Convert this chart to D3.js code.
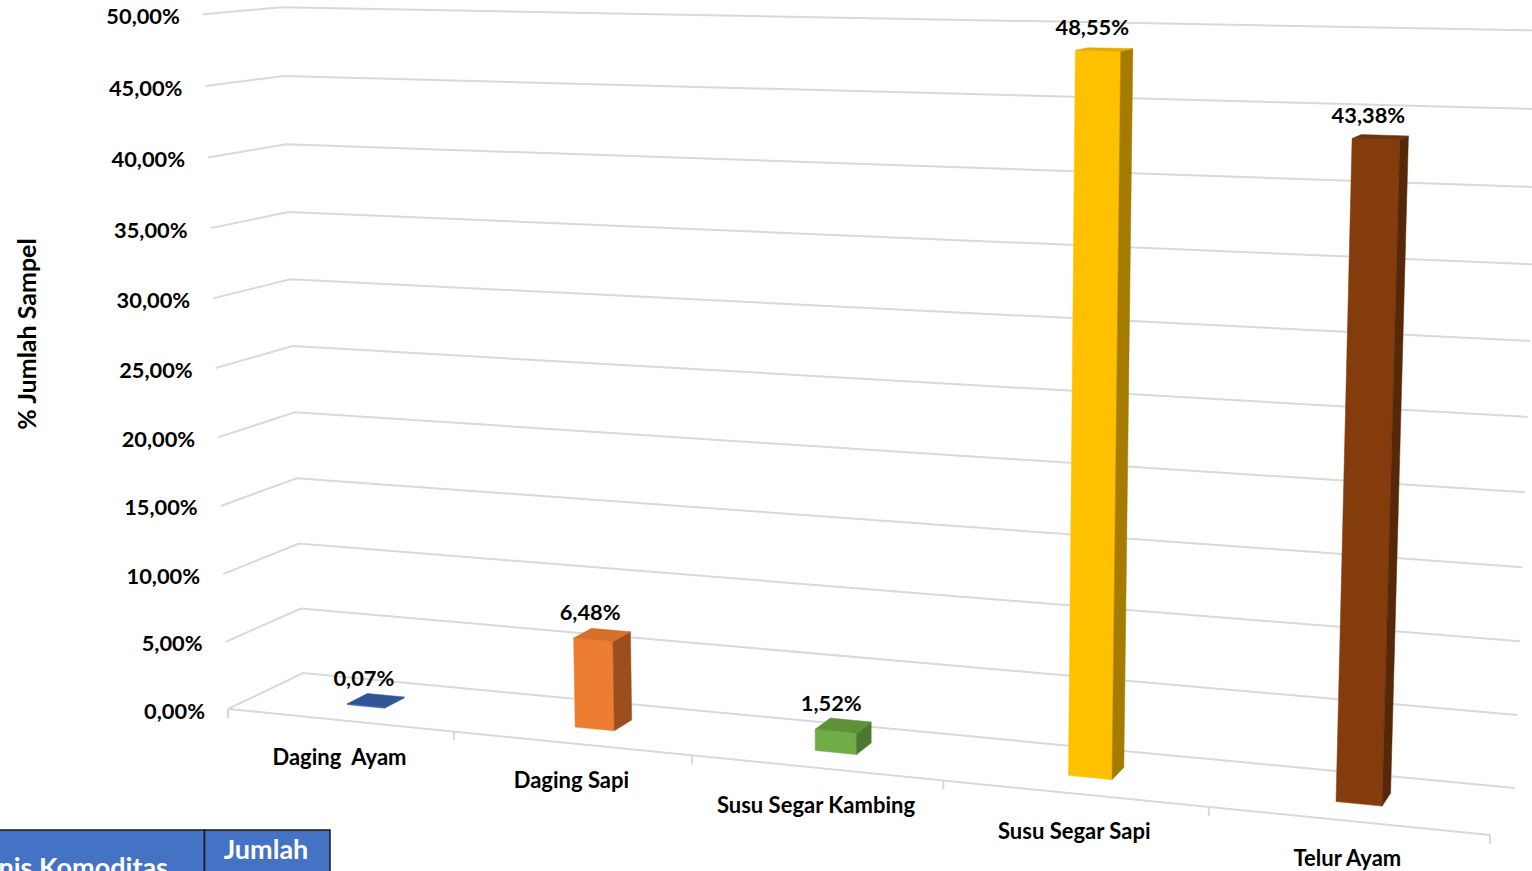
<!DOCTYPE html>
<html><head><meta charset="utf-8">
<script src="https://cdn.jsdelivr.net/npm/d3@7"></script>
<style>html,body{margin:0;padding:0;background:#fff;overflow:hidden}</style>
</head><body>
<svg id="chart" width="1532" height="871"></svg>
<script>
// ---- data ----
const categories = ["Daging  Ayam", "Daging Sapi", "Susu Segar Kambing", "Susu Segar Sapi", "Telur Ayam"];
const values = [0.07, 6.48, 1.52, 48.55, 43.38];
const valueLabels = ["0,07%", "6,48%", "1,52%", "48,55%", "43,38%"];
const yTicks = [0, 5, 10, 15, 20, 25, 30, 35, 40, 45, 50];
const yTickLabels = ["0,00%", "5,00%", "10,00%", "15,00%", "20,00%", "25,00%", "30,00%", "35,00%", "40,00%", "45,00%", "50,00%"];
const yTitle = "% Jumlah Sampel";
const tableHeaders = ["Jenis Komoditas", "Jumlah"];
// ---- styles ----
const frontColors = ["#4472C4", "#ED7D31", "#70AD47", "#FFC000", "#843C0C"];
const sideColors  = ["#2B4E8C", "#9C4E1F", "#4B7A2F", "#A67C00", "#572808"];
const topColors   = ["#2F5597", "#D66F2A", "#5E9239", "#E3AA00", "#6F330A"];
const FONT = "Lato, 'Open Sans', sans-serif";

const svg = d3.select("#chart");

// ---- 3D scales ----
const x = d3.scaleBand().domain(categories).range([0, 1]);
const y = d3.scaleLinear().domain([0, 50]).range([0, 1]);
const barW = x.bandwidth() / 6;
const zFront = 0.36, zBack = 0.64;

// perspective camera (vanishing points + origin)
const VX = [-8400, -153], VY = [893, 19100], VZ = [2009, -146], O = [228, 709];
const A = -0.1276, B = -0.0364, C = 0.04396;
function project(X, Y, Z) {
  const w = A * X + B * Y + C * Z + 1;
  const u = A * X * VX[0] + B * Y * VY[0] + C * Z * VZ[0] + O[0];
  const v = A * X * VX[1] + B * Y * VY[1] + C * Z * VZ[1] + O[1];
  return [u / w, v / w];
}
const line = d3.line();

// ---- gridlines ----
const grid = svg.append("g").attr("fill", "none").attr("stroke", "#D9D9D9").attr("stroke-width", 2);
yTicks.forEach(t => {
  const Y = y(t);
  grid.append("path").attr("d", line([project(0, Y, 0), project(0, Y, 1), project(1, Y, 1)]));
});
// floor front edge + ticks
grid.append("path").attr("d", line([project(0, 0, 0), project(1, 0, 0)]));
d3.range(categories.length + 1).forEach(k => {
  const p = project(k / categories.length, 0, 0);
  grid.append("path").attr("d", line([p, [p[0], p[1] + 9]]));
});

// ---- y tick labels ----
svg.append("g").selectAll("text").data(yTicks).join("text")
  .attr("x", d => project(0, y(d), 0)[0] - 23)
  .attr("y", d => project(0, y(d), 0)[1] + 1)
  .attr("text-anchor", "end").attr("dominant-baseline", "central")
  .attr("font-family", FONT).attr("font-weight", 700).attr("font-size", 21.8).attr("fill", "#000")
  .text((d, i) => yTickLabels[i]);

// ---- y title ----
svg.append("text")
  .attr("transform", "translate(26,334) rotate(-90)")
  .attr("text-anchor", "middle").attr("dominant-baseline", "central")
  .attr("font-family", FONT).attr("font-weight", 700).attr("font-size", 25)
  .text(yTitle);

// ---- bars ----
const bars = svg.append("g");
categories.forEach((c, i) => {
  const xc = x(c) + x.bandwidth() / 2;
  const x0 = xc - barW / 2, x1 = xc + barW / 2;
  const Y = y(values[i]);
  const front = [project(x0, 0, zFront), project(x1, 0, zFront), project(x1, Y, zFront), project(x0, Y, zFront)];
  const side = [project(x1, 0, zFront), project(x1, 0, zBack), project(x1, Y, zBack), project(x1, Y, zFront)];
  const top = [project(x0, Y, zFront), project(x1, Y, zFront), project(x1, Y, zBack), project(x0, Y, zBack)];
  const g = bars.append("g");
  g.append("path").attr("d", line(front) + "Z").attr("fill", frontColors[i]).attr("stroke", frontColors[i]).attr("stroke-width", 0.5);
  g.append("path").attr("d", line(side) + "Z").attr("fill", sideColors[i]).attr("stroke", sideColors[i]).attr("stroke-width", 0.5);
  g.append("path").attr("d", line(top) + "Z").attr("fill", topColors[i]).attr("stroke", topColors[i]).attr("stroke-width", 0.5);
  // value label
  const pt = project(xc, Y, 0.5);
  svg.append("text")
    .attr("x", pt[0] - 12).attr("y", pt[1] - 23)
    .attr("text-anchor", "middle").attr("dominant-baseline", "central")
    .attr("font-family", FONT).attr("font-weight", 700).attr("font-size", 21.8)
    .text(valueLabels[i]);
});

// ---- category labels ----
svg.append("g").selectAll("text").data(categories).join("text")
  .attr("x", d => project(x(d) + x.bandwidth() / 2, 0, 0)[0])
  .attr("y", d => project(x(d) + x.bandwidth() / 2, 0, 0)[1] + 45)
  .attr("text-anchor", "middle")
  .style("white-space", "pre")
  .attr("font-family", FONT).attr("font-weight", 700).attr("font-size", 22)
  .text(d => d);

// ---- table header fragment ----
const tbl = svg.append("g");
tbl.append("rect").attr("x", -120).attr("y", 830).attr("width", 324.5).attr("height", 60)
  .attr("fill", "#4472C4").attr("stroke", "#1a1a1a").attr("stroke-width", 1.5);
tbl.append("rect").attr("x", 204.5).attr("y", 830).attr("width", 125.5).attr("height", 60)
  .attr("fill", "#4472C4").attr("stroke", "#1a1a1a").attr("stroke-width", 1.5);
tbl.append("text").attr("x", 168).attr("y", 877).attr("text-anchor", "end")
  .attr("font-family", FONT).attr("font-weight", 700).attr("font-size", 27).attr("fill", "#fff")
  .text(tableHeaders[0]);
tbl.append("text").attr("x", 266).attr("y", 859).attr("text-anchor", "middle")
  .attr("font-family", FONT).attr("font-weight", 700).attr("font-size", 27).attr("fill", "#fff")
  .text(tableHeaders[1]);
</script>
</body></html>
